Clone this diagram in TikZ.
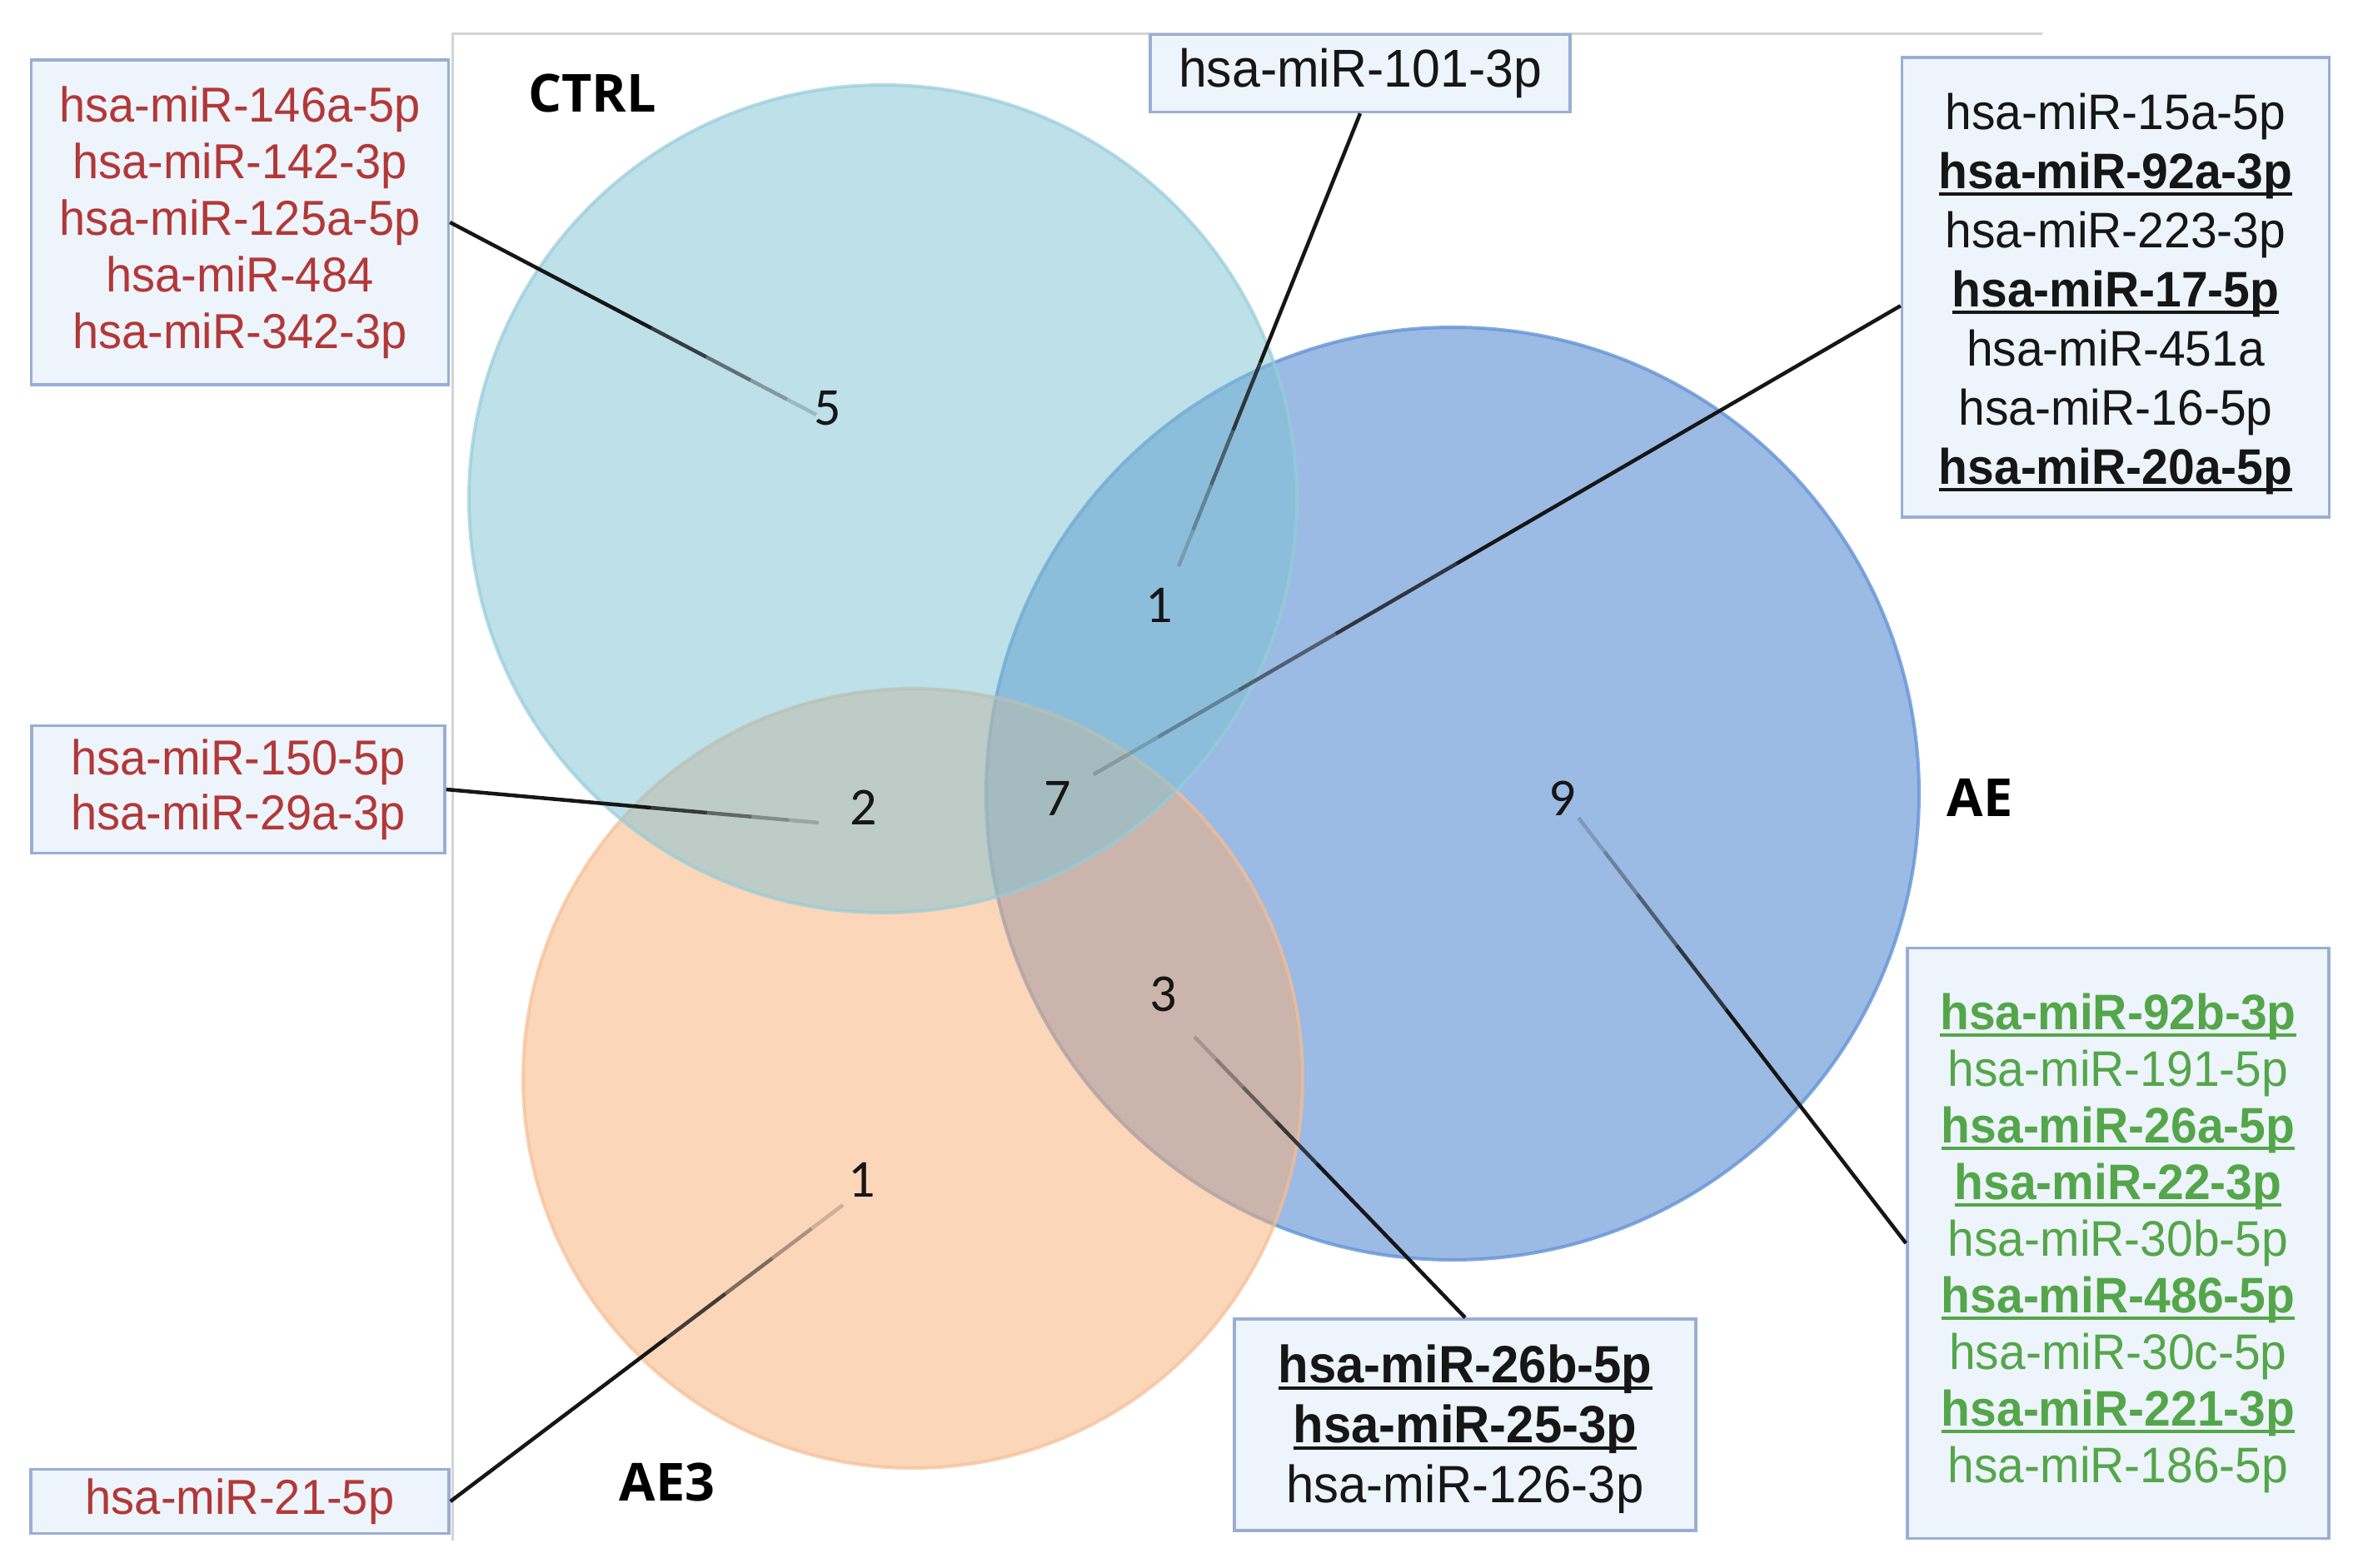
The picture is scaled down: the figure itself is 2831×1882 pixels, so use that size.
\documentclass[tikz,border=0pt]{standalone}
\usepackage{fontspec}
\setmainfont{Liberation Sans}
\newfontfamily\mirfont{Liberation Sans}[FakeStretch=0.95]
\newfontfamily\labfont{Open Sans}
\newfontfamily\numfont{Carlito}
\usetikzlibrary{calc}
\definecolor{redtxt}{RGB}{178,56,56}
\definecolor{greentxt}{RGB}{84,166,74}
\definecolor{blacktxt}{RGB}{22,22,22}
\definecolor{boxfill}{RGB}{238,244,252}
\definecolor{boxborder}{RGB}{154,174,212}
\definecolor{ctrlfill}{RGB}{127,195,211}
\definecolor{ctrlline}{RGB}{150,205,218}
\definecolor{aefill}{RGB}{57,119,203}
\definecolor{aeline}{RGB}{100,148,214}
\definecolor{aethreefill}{RGB}{251,175,117}
\definecolor{aethreeline}{RGB}{246,190,150}
\definecolor{framegrey}{RGB}{212,212,212}
\newsavebox\ulbox
\newcommand\ulb[1]{\sbox\ulbox{\bfseries #1}\rlap{\rule[-0.14em]{\wd\ulbox}{0.06em}}\usebox\ulbox}
\newcommand\fadeconn[2]{%
  \draw[conn] (#1) -- ($(#1)!0.55!(#2)$);
  \draw[conn,draw opacity=0.8] ($(#1)!0.55!(#2)$) -- ($(#1)!0.7!(#2)$);
  \draw[conn,draw opacity=0.55] ($(#1)!0.7!(#2)$) -- ($(#1)!0.82!(#2)$);
  \draw[conn,draw opacity=0.35] ($(#1)!0.82!(#2)$) -- ($(#1)!0.92!(#2)$);
  \draw[conn,draw opacity=0.2] ($(#1)!0.92!(#2)$) -- (#2);}
\begin{document}
\begin{tikzpicture}[x=1pt,y=-1pt,
  mirbox/.style={draw=boxborder, fill=boxfill, line width=3.5pt, inner sep=0pt, align=center},
  mirtext/.style={inner sep=0pt, align=center},
  setlabel/.style={inner sep=0pt, text=black, font=\labfont\bfseries\fontsize{63}{70}\selectfont},
  countlabel/.style={inner sep=0pt, text=blacktxt, font=\numfont\fontsize{64}{70}\selectfont},
  conn/.style={draw=blacktxt, line width=4.5pt},
  vennline/.style={line width=4pt}]
\useasboundingbox (0,0) rectangle (2831,1882);
\fill[white] (0,0) rectangle (2831,1882);
% frame
\draw[framegrey, line width=3pt] (2452,40) -- (543,40) -- (543,1850);
% circles
\fill[aefill, fill opacity=0.5] (1744,953) circle[radius=560pt];
\draw[aeline, vennline, draw opacity=0.8] (1744,953) circle[radius=560pt];
\fill[aethreefill, fill opacity=0.5] (1096,1295) circle[radius=468pt];
\draw[aethreeline, vennline, draw opacity=0.7] (1096,1295) circle[radius=468pt];
\fill[ctrlfill, fill opacity=0.5] (1060,599) circle[radius=497pt];
\draw[ctrlline, vennline, draw opacity=0.7] (1060,599) circle[radius=497pt];
% set labels
\node[setlabel] (ctrl) at (711,112) {CTRL};
\node[setlabel] (ae) at (2377,958) {AE};
\node[setlabel] (aethree) at (801,1780) {AE3};
% counts
\node[countlabel] (n5) at (994,490) {5};
\node[countlabel] (n1a) at (1392,727) {1};
\node[countlabel] (n2) at (1037,970) {2};
\node[countlabel] (n7) at (1270,959) {7};
\node[countlabel] (n9) at (1876,959) {9};
\node[countlabel] (n3) at (1397,1194) {3};
\node[countlabel] (n1b) at (1035,1417) {1};
% boxes
\node[mirbox, minimum width=501pt, minimum height=390pt, text=redtxt,
  font=\mirfont\fontsize{59}{68}\selectfont] (red1) at (288,267)
  {hsa-miR-146a-5p\\hsa-miR-142-3p\\hsa-miR-125a-5p\\hsa-miR-484\\hsa-miR-342-3p};
\node[mirbox, minimum width=504pt, minimum height=93pt, text=blacktxt,
  font=\mirfont\fontsize{64}{72}\selectfont] (b101) at (1633,88) {hsa-miR-101-3p};
\node[mirbox, minimum width=513pt, minimum height=552pt] (tr) at (2540,345) {};
\node[mirtext, text=blacktxt, font=\mirfont\fontsize{60}{71}\selectfont] (trtext)
  at ([yshift=-8pt]tr.center)
  {hsa-miR-15a-5p\\\ulb{hsa-miR-92a-3p}\\hsa-miR-223-3p\\\ulb{hsa-miR-17-5p}\\hsa-miR-451a\\hsa-miR-16-5p\\\ulb{hsa-miR-20a-5p}};
\node[mirbox, minimum width=496pt, minimum height=153pt, text=redtxt,
  font=\mirfont\fontsize{59}{66}\selectfont] (red2) at (286,948)
  {hsa-miR-150-5p\\hsa-miR-29a-3p};
\node[mirbox, minimum width=502pt, minimum height=77pt, text=redtxt,
  font=\mirfont\fontsize{59}{66}\selectfont] (red3) at (288,1803) {hsa-miR-21-5p};
\node[mirbox, minimum width=554pt, minimum height=254pt] (bot) at (1759,1711) {};
\node[mirtext, text=blacktxt, font=\mirfont\fontsize{63}{72}\selectfont] (bottext)
  at ([yshift=-5pt]bot.center)
  {\ulb{hsa-miR-26b-5p}\\\ulb{hsa-miR-25-3p}\\hsa-miR-126-3p};
\node[mirbox, minimum width=506pt, minimum height=709pt, text=greentxt,
  font=\mirfont\fontsize{60}{68}\selectfont] (gr) at (2543,1493)
  {\ulb{hsa-miR-92b-3p}\\hsa-miR-191-5p\\\ulb{hsa-miR-26a-5p}\\\ulb{hsa-miR-22-3p}\\hsa-miR-30b-5p\\\ulb{hsa-miR-486-5p}\\hsa-miR-30c-5p\\\ulb{hsa-miR-221-3p}\\hsa-miR-186-5p};
% connector end points
\coordinate (e5) at (980,498);
\coordinate (e1a) at (1415,680);
\coordinate (e7) at (1313,930);
\coordinate (e2) at (983,988);
\coordinate (e1b) at (1012,1447);
\coordinate (e3) at (1434,1245);
\coordinate (e9) at (1895,982);
\coordinate (s7) at ($(tr.north west)!0.54!(tr.south west)$);
% connectors
\fadeconn{red1.east}{e5}
\fadeconn{b101.south}{e1a}
\fadeconn{s7}{e7}
\fadeconn{red2.east}{e2}
\fadeconn{red3.east}{e1b}
\fadeconn{bot.north}{e3}
\fadeconn{gr.west}{e9}
\end{tikzpicture}
\end{document}
